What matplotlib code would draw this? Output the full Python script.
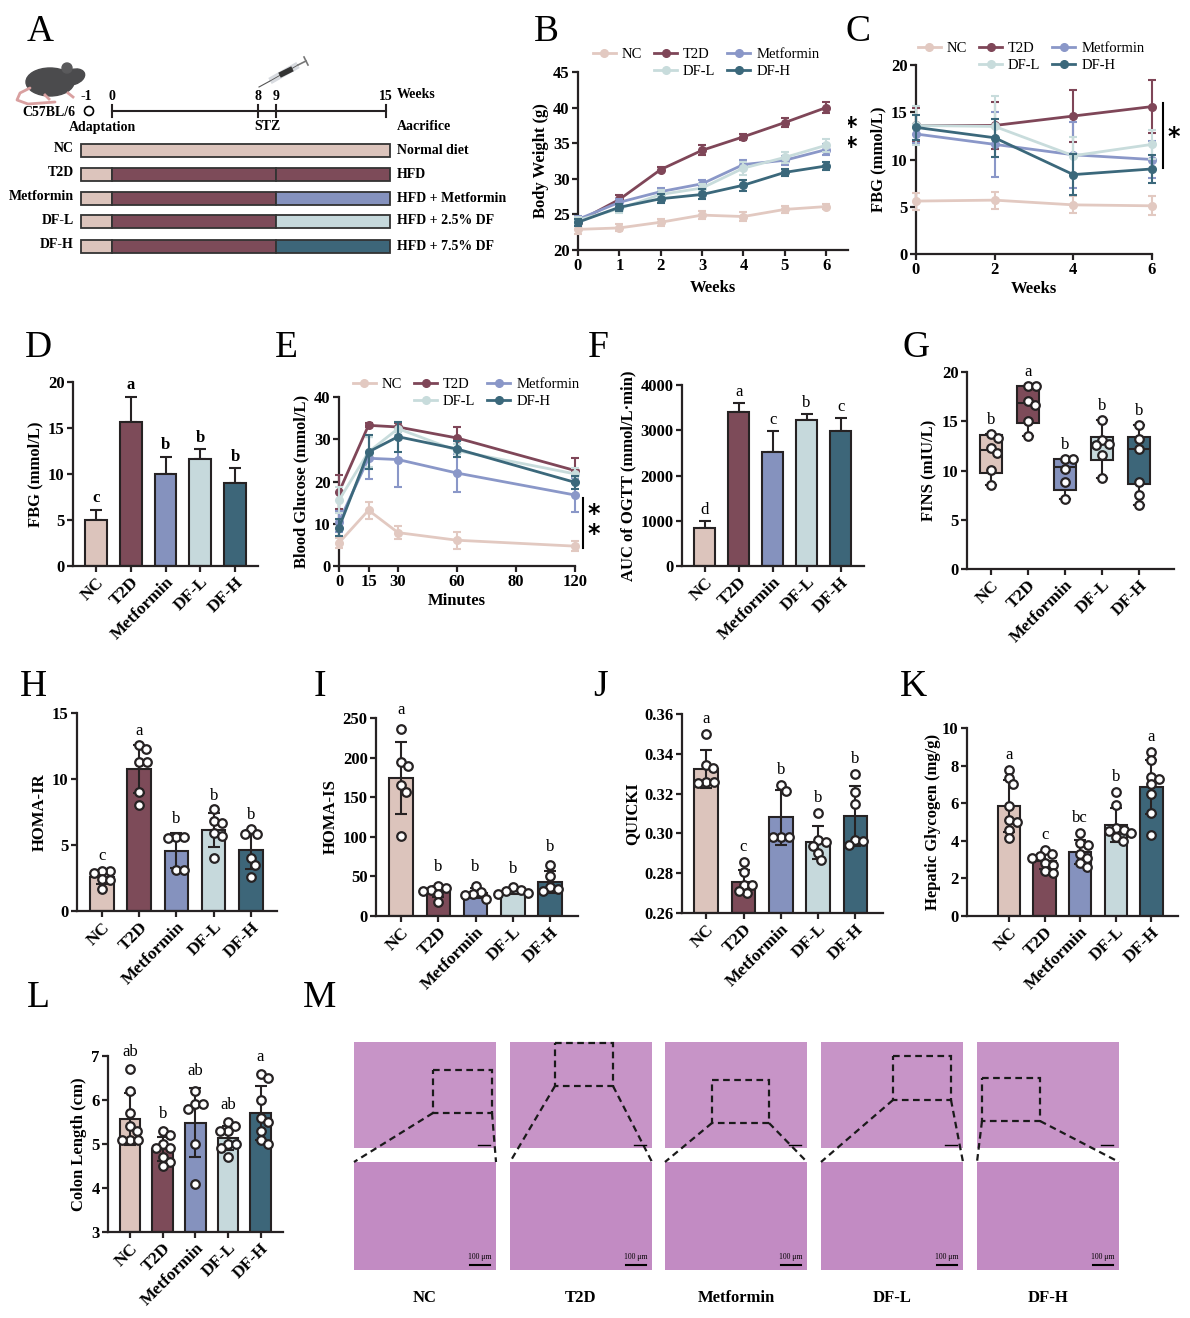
import numpy as np
import matplotlib.pyplot as plt
from matplotlib.patches import Rectangle, Ellipse, Circle
from matplotlib.lines import Line2D

plt.rcParams['font.family'] = ['Liberation Serif', 'DejaVu Serif']
plt.rcParams['font.weight'] = 'bold'
plt.rcParams['axes.labelweight'] = 'bold'

W, H = 1190, 1318

groups = ['NC', 'T2D', 'Metformin', 'DF-L', 'DF-H']
bar_colors = ['#dcc4bc', '#7d4b59', '#8592be', '#c6d9dc', '#3d6679']
line_colors = ['#e2c9c1', '#7f4658', '#8a97c8', '#c8dcdc', '#3b687b']
edge = '#262223'

# A: study design
diet_labels = ['Normal diet', 'HFD', 'HFD + Metformin', 'HFD + 2.5% DF', 'HFD + 7.5% DF']
timeline_weeks = [0, 8, 9, 15]

# B: body weight
bw_weeks = [0, 1, 2, 3, 4, 5, 6]
bw_mean = [[22.9, 23.1, 23.9, 24.9, 24.7, 25.7, 26.1],
           [24.0, 27.1, 31.3, 34.0, 35.9, 37.9, 40.0],
           [24.3, 26.7, 28.2, 29.3, 32.0, 32.6, 34.1],
           [24.2, 25.8, 27.8, 28.7, 31.5, 33.0, 34.7],
           [23.9, 26.0, 27.2, 27.8, 29.1, 30.9, 31.8]]
bw_sd = [[0.6, 0.5, 0.5, 0.6, 0.6, 0.5, 0.4],
         [0.5, 0.6, 0.3, 0.7, 0.4, 0.6, 0.8],
         [0.5, 0.5, 0.5, 0.5, 0.6, 0.6, 0.8],
         [0.5, 0.6, 0.6, 0.6, 0.9, 0.8, 0.9],
         [0.5, 0.5, 0.6, 0.7, 0.8, 0.5, 0.6]]

# C: FBG over weeks
fbg_weeks = [0, 2, 4, 6]
fbg_mean = [[5.6, 5.7, 5.2, 5.1],
            [13.6, 13.6, 14.6, 15.6],
            [12.7, 11.6, 10.5, 10.0],
            [13.6, 13.5, 10.4, 11.6],
            [13.4, 12.3, 8.4, 9.0]]
fbg_sd = [[0.9, 0.9, 0.9, 1.0],
          [1.8, 2.5, 2.8, 2.8],
          [1.0, 3.4, 3.5, 2.0],
          [2.1, 3.2, 2.0, 1.5],
          [1.3, 2.0, 2.2, 1.5]]

# D: final FBG
fbg6_mean = [5.0, 15.6, 10.0, 11.6, 9.0]
fbg6_sd = [1.1, 2.8, 1.9, 1.1, 1.6]
fbg6_letters = ['c', 'a', 'b', 'b', 'b']

# E: OGTT
ogtt_min = [0, 15, 30, 60, 120]
ogtt_ticks = [0, 15, 30, 60, 90, 120]
ogtt_ticklabels = ['0', '15', '30', '60', '80', '120']
ogtt_mean = [[5.5, 13.2, 7.9, 6.1, 4.7],
             [17.5, 33.3, 32.9, 30.3, 22.6],
             [10.5, 25.5, 25.2, 22.0, 16.8],
             [15.6, 27.0, 32.5, 27.3, 21.8],
             [9.1, 27.0, 30.6, 27.7, 19.8]]
ogtt_sd = [[1.2, 2.0, 1.5, 2.0, 1.1],
           [4.0, 0.5, 1.0, 2.5, 3.0],
           [2.5, 5.0, 6.5, 4.5, 4.0],
           [3.0, 3.5, 1.5, 1.5, 1.5],
           [2.0, 4.0, 3.5, 2.0, 1.5]]

# F: AUC of OGTT
auc_mean = [830, 3400, 2510, 3220, 2990]
auc_sd = [170, 210, 480, 140, 290]
auc_letters = ['d', 'a', 'c', 'b', 'c']

# G: FINS box plot
fins = [[13.7, 13.3, 12.3, 11.8, 10.05, 8.5],
        [18.6, 18.6, 17.1, 16.7, 15.0, 13.5],
        [11.2, 11.2, 10.2, 8.8, 7.1],
        [15.1, 13.1, 12.66, 12.56, 11.57, 9.2],
        [14.6, 13.2, 12.15, 8.8, 7.5, 6.5]]
fins_q1 = [9.7, 14.8, 8.0, 11.1, 8.6]
fins_med = [12.1, 16.9, 10.4, 12.7, 12.15]
fins_q3 = [13.6, 18.6, 11.2, 13.4, 13.4]
fins_letters = ['b', 'a', 'b', 'b', 'b']

# H - L: bars with individual points
homa_ir = [[3.0, 3.05, 2.85, 2.45, 2.35, 1.7],
           [12.6, 12.3, 11.3, 11.3, 9.0, 8.0],
           [5.6, 5.6, 5.5, 3.1, 3.1],
           [7.7, 6.8, 6.7, 5.9, 5.7, 4.0],
           [6.2, 5.8, 5.8, 4.0, 3.5, 2.6]]
homa_ir_letters = ['c', 'a', 'b', 'b', 'b']
homa_is = [[236, 195, 190, 165, 157, 101],
           [38, 35, 33, 32, 28, 18],
           [38, 30, 28, 26, 22],
           [36, 33, 31, 29, 28],
           [64, 50, 36, 34, 31]]
homa_is_letters = ['a', 'b', 'b', 'b', 'b']
quicki = [[0.350, 0.3344, 0.3329, 0.3257, 0.3253, 0.3257],
          [0.2855, 0.2804, 0.2739, 0.2739, 0.2700, 0.2709],
          [0.3245, 0.3215, 0.298, 0.298, 0.298],
          [0.3105, 0.2966, 0.2958, 0.2936, 0.2900, 0.2865],
          [0.330, 0.3207, 0.3146, 0.2966, 0.2964, 0.2943]]
quicki_letters = ['a', 'c', 'b', 'b', 'b']
glycogen = [[7.75, 7.35, 7.0, 5.85, 5.1, 5.0, 4.6, 4.15],
            [3.5, 3.3, 3.2, 3.1, 2.8, 2.7, 2.4, 2.3],
            [4.4, 3.9, 3.8, 3.3, 3.1, 2.8, 2.6],
            [6.6, 5.9, 4.7, 4.6, 4.5, 4.4, 4.2, 4.0],
            [8.7, 8.3, 7.4, 7.3, 7.0, 6.5, 5.5, 4.3]]
glycogen_letters = ['a', 'c', 'bc', 'b', 'a']
colon = [[6.7, 6.2, 5.7, 5.4, 5.3, 5.1, 5.1, 5.1],
         [5.3, 5.2, 5.0, 4.9, 4.9, 4.7, 4.6, 4.5],
         [6.2, 5.9, 5.9, 5.8, 5.0, 4.1],
         [5.5, 5.4, 5.3, 5.3, 5.0, 5.0, 4.9, 4.7],
         [6.6, 6.5, 6.0, 5.6, 5.5, 5.3, 5.1, 5.0]]
colon_letters = ['ab', 'b', 'ab', 'ab', 'a']

TICK = 12
LAB = 12
CAT = 12.5

fig = plt.figure(figsize=(W / 100, H / 100), dpi=100)
canvas = fig.add_axes([0, 0, 1, 1])
canvas.set_xlim(0, W)
canvas.set_ylim(H, 0)
canvas.axis('off')


def px_axes(l, t, r, b):
    return fig.add_axes([l / W, 1 - b / H, (r - l) / W, (b - t) / H])


def style(ax):
    for s in ['top', 'right']:
        ax.spines[s].set_visible(False)
    for s in ['left', 'bottom']:
        ax.spines[s].set_linewidth(1.6)
        ax.spines[s].set_color(edge)
    ax.tick_params(width=1.6, length=4.5, color=edge, labelsize=TICK, pad=1.5)


def cat_axis(ax, xlim):
    ax.set_xlim(*xlim)
    ax.set_xticks(range(5))
    ax.set_xticklabels(groups, rotation=45, ha='right', va='top', rotation_mode='anchor', fontsize=CAT)


def ppu(ax):
    # pixels per data unit along x and y
    bb = ax.get_position()
    x0, x1 = ax.get_xlim()
    y0, y1 = ax.get_ylim()
    return bb.width * W / (x1 - x0), bb.height * H / (y1 - y0)


def swarm(vals, px_x, px_y, d=7.5):
    vals = np.asarray(vals, float)
    offs = np.zeros(len(vals))
    cands = [0.0]
    for k in range(1, 40):
        cands += [float(k), -float(k)]
    done = []
    for i in np.argsort(-vals):
        for c in cands:
            if all(np.hypot(c - offs[j], (vals[i] - vals[j]) * px_y) >= d for j in done):
                offs[i] = c
                break
        done.append(i)
    return offs / px_x


def letters_on(ax, xs, tops, letters, pad, bold=False):
    lo, hi = ax.get_ylim()
    for x, t, s in zip(xs, tops, letters):
        ax.text(x, t + pad * (hi - lo), s, ha='center', va='center', fontsize=12,
                weight='bold' if bold else 'normal', clip_on=False)


def bars_sd(ax, means, sds, letters, pad, bold):
    x = np.arange(5)
    ax.bar(x, means, width=0.63, color=bar_colors, edgecolor=edge, linewidth=1.5, zorder=2)
    ax.errorbar(x, means, yerr=[np.zeros(5), sds], fmt='none', ecolor=edge, elinewidth=1.5,
                capsize=4.5, capthick=1.5, zorder=1)
    letters_on(ax, x, np.add(means, sds), letters, pad, bold)


def points(ax, data):
    px_x, px_y = ppu(ax)
    for i, d in enumerate(data):
        offs = swarm(d, px_x, px_y)
        ax.scatter(i + offs, d, s=38, facecolor='white', edgecolor=edge, linewidth=1.6, zorder=4, clip_on=False)


def bars_points(ax, data, letters, pad):
    lo, hi = ax.get_ylim()
    x = np.arange(5)
    means = np.array([np.mean(d) for d in data])
    sds = np.array([np.std(d, ddof=1) for d in data])
    ax.bar(x, means - lo, bottom=lo, width=0.63, color=bar_colors, edgecolor=edge, linewidth=1.5, zorder=2)
    ax.errorbar(x, means, yerr=sds, fmt='none', ecolor=edge, elinewidth=1.5, capsize=4.5,
                capthick=1.5, zorder=3)
    points(ax, data)
    tops = [max(max(d), m + s) for d, m, s in zip(data, means, sds)]
    letters_on(ax, x, tops, letters, pad)


def line_panel(ax, x, means, sds):
    for i in [0, 3, 2, 4, 1]:
        ax.errorbar(x, means[i], yerr=sds[i], color=line_colors[i], marker='o', ms=5.5, lw=2,
                    elinewidth=1.5, capsize=3, capthick=1.5, clip_on=False, zorder=3 + i)


def group_legend(ax, cx, cy):
    h = [Line2D([0], [0], color=c, marker='o', ms=5.5, lw=2) for c in line_colors]
    blank = Line2D([], [], color='none')
    handles = [h[0], blank, h[1], h[3], h[2], h[4]]
    labels = ['NC', '', 'T2D', 'DF-L', 'Metformin', 'DF-H']
    ax.legend(handles, labels, ncol=3, loc='center', bbox_to_anchor=(cx, cy),
              bbox_transform=canvas.transData, frameon=False,
              prop={'size': 10.5, 'weight': 'normal'}, handlelength=1.6, handletextpad=0.4,
              columnspacing=0.8, labelspacing=0.25, borderpad=0)


def sig(x, y0, y1, n, ty):
    canvas.plot([x, x], [y0, y1], color='black', lw=1.5)
    canvas.text(x + 11, ty, '\n'.join(['*'] * n), ha='center', va='center', linespacing=0.75,
                fontsize=17, family='DejaVu Sans', weight='bold')


# panel letters
for lab, (lx, ly) in {'A': (40, 32), 'B': (546, 32), 'C': (858, 32), 'D': (38, 348),
                       'E': (286, 348), 'F': (598, 348), 'G': (916, 348), 'H': (33, 687),
                       'I': (320, 687), 'J': (601, 687), 'K': (913, 687), 'L': (38, 998),
                       'M': (320, 998)}.items():
    canvas.text(lx, ly, lab, fontsize=27, weight='normal', ha='center', va='center')

# ---------- A ----------
def wk(w):
    return 112 + w * (386 - 112) / 15

# mouse
canvas.add_patch(Ellipse((50, 82), 48, 28, color='#4b4b4d'))
canvas.add_patch(Ellipse((73, 77), 24, 15, angle=-18, color='#4b4b4d'))
canvas.add_patch(Circle((67, 68), 5, color='#5a5a5c'))
canvas.plot([30, 20, 17, 28, 55], [88, 93, 100, 104, 102], color='#d9a0a0', lw=2, solid_capstyle='round')
canvas.plot([45, 49], [95, 99], color='#d9a0a0', lw=2)
canvas.plot([68, 73], [93, 97], color='#d9a0a0', lw=2)
# syringe
canvas.plot([259, 270], [87, 81], color='#555555', lw=0.8)
canvas.plot([270, 298], [81, 65], color='#d8dbe0', lw=5, solid_capstyle='butt')
canvas.plot([270, 298], [81, 65], color='#555555', lw=0.6)
canvas.plot([282, 290], [74, 70], color='#333333', lw=4)
canvas.plot([298, 306], [65, 61], color='#777777', lw=1.2)
canvas.plot([304, 308], [57, 65], color='#777777', lw=1.2)

AF = 10
canvas.text(75, 112, 'C57BL/6', ha='right', va='center', fontsize=AF)
canvas.add_patch(Circle((89, 111), 4.5, fill=False, ec='black', lw=1.2))
canvas.text(86, 96, '-1', ha='center', va='center', fontsize=AF)
canvas.plot([wk(0), wk(15)], [111, 111], color=edge, lw=1.5)
for w in timeline_weeks:
    canvas.plot([wk(w), wk(w)], [105, 117], color=edge, lw=1.5)
    canvas.text(wk(w), 96, str(w), ha='center', va='center', fontsize=AF)
canvas.text(397, 95, 'Weeks', ha='left', va='center', fontsize=AF)
canvas.text(102, 127, 'Adaptation', ha='center', va='center', fontsize=AF)
canvas.text(wk(8.5), 127, 'STZ', ha='center', va='center', fontsize=AF)
canvas.text(397, 126, 'Aacrifice', ha='left', va='center', fontsize=AF)

row_y = [150, 174, 198, 221, 246]
for i, g in enumerate(groups):
    y = row_y[i]
    if i == 0:
        segs = [(-1.7, 15.2, bar_colors[0])]
    else:
        segs = [(-1.7, 0, bar_colors[0]), (0, 9, bar_colors[1]), (9, 15.2, bar_colors[i])]
    for a, b, c in segs:
        canvas.add_patch(Rectangle((wk(a), y - 6.5), wk(b) - wk(a), 13, facecolor=c, edgecolor='#333333', lw=1.3))
    canvas.text(74, y - 1, g, ha='right', va='center', fontsize=AF)
    canvas.text(397, y, diet_labels[i], ha='left', va='center', fontsize=AF)

# ---------- B ----------
axB = px_axes(578, 72, 848, 250)
style(axB)
line_panel(axB, bw_weeks, bw_mean, bw_sd)
axB.set_xlim(0, 6.53)
axB.set_ylim(20, 45)
axB.set_xticks(range(7))
axB.set_yticks(range(20, 46, 5))
axB.set_xlabel('Weeks', fontsize=LAB, labelpad=4)
axB.set_ylabel('Body Weight (g)', fontsize=LAB, labelpad=3)
group_legend(axB, 706, 63)
sig(840, 108, 167, 2, 137)

# ---------- C ----------
axC = px_axes(916, 65, 1152, 254)
style(axC)
line_panel(axC, fbg_weeks, fbg_mean, fbg_sd)
axC.set_xlim(0, 6)
axC.set_ylim(0, 20)
axC.set_xticks([0, 2, 4, 6])
axC.set_yticks(range(0, 21, 5))
axC.set_xlabel('Weeks', fontsize=LAB, labelpad=2)
axC.set_ylabel('FBG (mmol/L)', fontsize=LAB, labelpad=3)
group_legend(axC, 1031, 57)
sig(1163, 103, 168, 1, 137)

# ---------- D ----------
axD = px_axes(73, 382, 258, 566)
style(axD)
axD.set_ylim(0, 20)
axD.set_yticks(range(0, 21, 5))
cat_axis(axD, (-0.66, 4.66))
bars_sd(axD, fbg6_mean, fbg6_sd, fbg6_letters, 0.062, True)
axD.set_ylabel('FBG (mmol/L)', fontsize=LAB, labelpad=3)

# ---------- E ----------
axE = px_axes(339, 397, 575, 566)
style(axE)
line_panel(axE, ogtt_min, ogtt_mean, ogtt_sd)
axE.set_xlim(0, 120)
axE.set_ylim(0, 40)
axE.set_xticks(ogtt_ticks)
axE.set_xticklabels(ogtt_ticklabels)
axE.set_yticks(range(0, 41, 10))
axE.set_xlabel('Minutes', fontsize=LAB, labelpad=2)
axE.set_ylabel('Blood Glucose (mmol/L)', fontsize=LAB, labelpad=3)
group_legend(axE, 466, 393)
sig(583, 498, 548, 2, 524)

# ---------- F ----------
axF = px_axes(682, 385, 864, 566)
style(axF)
axF.set_ylim(0, 4000)
axF.set_yticks(range(0, 4001, 1000))
cat_axis(axF, (-0.67, 4.69))
bars_sd(axF, auc_mean, auc_sd, auc_letters, 0.058, False)
axF.set_ylabel('AUC of OGTT (mmol/L\u00b7min)', fontsize=LAB, labelpad=3)

# ---------- G ----------
axG = px_axes(967, 372, 1174, 569)
style(axG)
axG.set_ylim(0, 20)
axG.set_yticks(range(0, 21, 5))
cat_axis(axG, (-0.65, 4.95))
stats = [{'med': fins_med[i], 'q1': fins_q1[i], 'q3': fins_q3[i],
          'whislo': min(fins[i]), 'whishi': max(fins[i]), 'fliers': []} for i in range(5)]
bp = axG.bxp(stats, positions=range(5), widths=0.6, patch_artist=True, showcaps=True,
             boxprops={'linewidth': 1.5, 'edgecolor': edge},
             medianprops={'color': edge, 'linewidth': 1.5},
             whiskerprops={'color': edge, 'linewidth': 1.5},
             capprops={'color': edge, 'linewidth': 1.5}, capwidths=0.25, manage_ticks=False)
for patch, c in zip(bp['boxes'], bar_colors):
    patch.set_facecolor(c)
points(axG, fins)
letters_on(axG, range(5), [max(d) for d in fins], fins_letters, 0.07)
axG.set_ylabel('FINS (mIU/L)', fontsize=LAB, labelpad=3)

# ---------- H ----------
axH = px_axes(77, 713, 277, 911)
style(axH)
axH.set_ylim(0, 15)
axH.set_yticks(range(0, 16, 5))
cat_axis(axH, (-0.67, 4.7))
bars_points(axH, homa_ir, homa_ir_letters, 0.07)
axH.set_ylabel('HOMA-IR', fontsize=LAB, labelpad=3)

# ---------- I ----------
axI = px_axes(376, 718, 578, 916)
style(axI)
axI.set_ylim(0, 250)
axI.set_yticks(range(0, 251, 50))
cat_axis(axI, (-0.67, 4.75))
bars_points(axI, homa_is, homa_is_letters, 0.095)
axI.set_ylabel('HOMA-IS', fontsize=LAB, labelpad=3)

# ---------- J ----------
axJ = px_axes(682, 714, 883, 913)
style(axJ)
axJ.set_ylim(0.26, 0.36)
jt = np.arange(0.26, 0.3601, 0.02)
axJ.set_yticks(jt)
axJ.set_yticklabels(['%.2f' % v for v in jt])
cat_axis(axJ, (-0.65, 4.74))
bars_points(axJ, quicki, quicki_letters, 0.075)
axJ.set_ylabel('QUICKI', fontsize=LAB, labelpad=3)

# ---------- K ----------
axK = px_axes(967, 728, 1178, 916)
style(axK)
axK.set_ylim(0, 10)
axK.set_yticks(range(0, 11, 2))
cat_axis(axK, (-1.18, 4.75))
bars_points(axK, glycogen, glycogen_letters, 0.08)
axK.set_ylabel('Hepatic Glycogen (mg/g)', fontsize=LAB, labelpad=1)

# ---------- L ----------
axL = px_axes(108, 1056, 283, 1232)
style(axL)
axL.set_ylim(3, 7)
axL.set_yticks(range(3, 8))
cat_axis(axL, (-0.68, 4.69))
bars_points(axL, colon, colon_letters, 0.095)
axL.set_ylabel('Colon Length (cm)', fontsize=LAB, labelpad=3)

# ---------- M: colon H&E sections (placeholders) ----------
img_left = [354, 510, 665, 821, 977]
img_w = 142
zoom_boxes = [(433, 1070, 492, 1113), (555, 1043, 613, 1086), (712, 1080, 769, 1123),
              (893, 1056, 951, 1100), (982, 1078, 1040, 1121)]
for i, g in enumerate(groups):
    x0 = img_left[i]
    canvas.add_patch(Rectangle((x0, 1042), img_w, 106, facecolor='#c794c7', edgecolor='none'))
    canvas.add_patch(Rectangle((x0, 1162), img_w, 108, facecolor='#c28bc3', edgecolor='none'))
    bx0, by0, bx1, by1 = zoom_boxes[i]
    canvas.add_patch(Rectangle((bx0, by0), bx1 - bx0, by1 - by0, fill=False, edgecolor='#1a1a1a',
                               lw=1.6, ls=(0, (3, 2))))
    canvas.plot([bx0, x0], [by1, 1162], color='#1a1a1a', lw=1.6, ls=(0, (3, 2)))
    canvas.plot([bx1, x0 + img_w], [by1, 1162], color='#1a1a1a', lw=1.6, ls=(0, (3, 2)))
    canvas.plot([x0 + img_w - 26, x0 + img_w - 6], [1265, 1265], color='black', lw=1.5)
    canvas.text(x0 + img_w - 16, 1261, '100 \u03bcm', ha='center', va='bottom', fontsize=5.5, weight='normal')
    canvas.plot([x0 + img_w - 18, x0 + img_w - 6], [1145, 1145], color='black', lw=1)
    canvas.text(x0 + img_w / 2, 1298, g, ha='center', va='center', fontsize=12)

fig.savefig('out.png', dpi=100)
